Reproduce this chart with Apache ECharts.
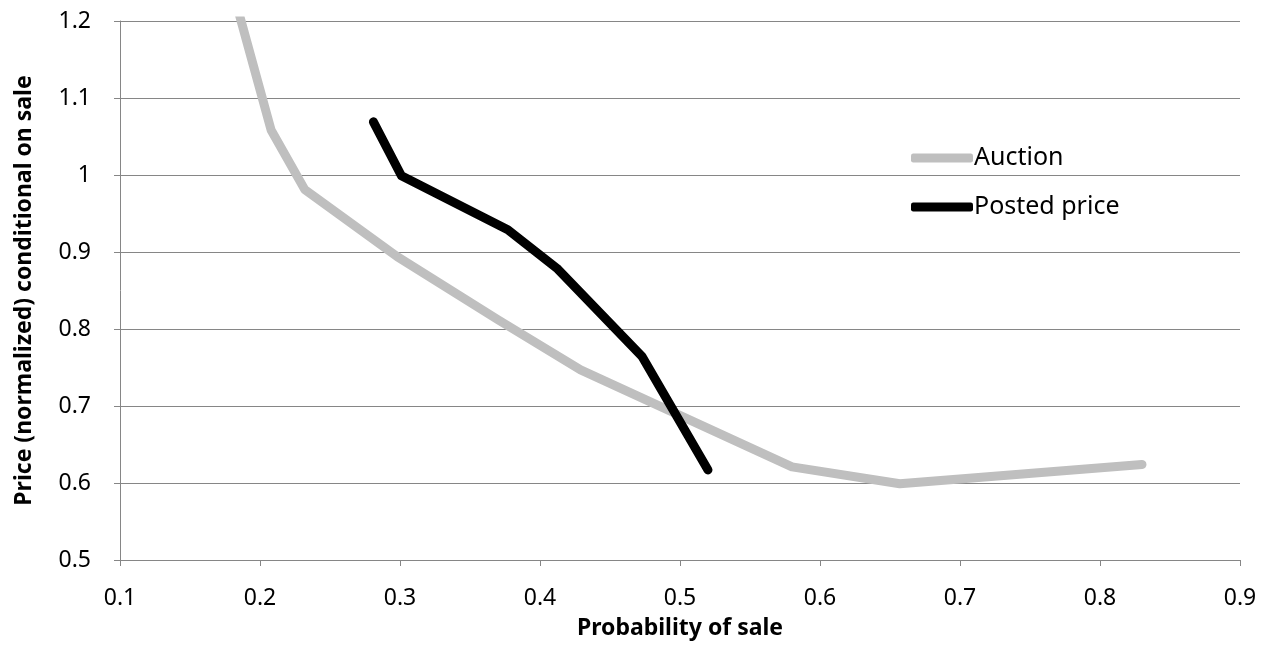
<!DOCTYPE html>
<html>
<head>
<meta charset="utf-8">
<script src="https://cdn.jsdelivr.net/npm/echarts@6/dist/echarts.min.js"></script>
<style>
  html, body { margin: 0; padding: 0; background: #fff; }
  #chart { width: 1269px; height: 665px; }
</style>
</head>
<body>
<div id="chart"></div>
<script>
// ---- data ----
const auctionX = [0.18, 0.208, 0.232, 0.298, 0.37, 0.429, 0.58, 0.657, 0.83];
const auctionY = [1.243, 1.058, 0.981, 0.894, 0.812, 0.747, 0.621, 0.599, 0.624];
const postedX = [0.281, 0.301, 0.377, 0.412, 0.473, 0.52];
const postedY = [1.069, 0.999, 0.929, 0.879, 0.764, 0.617];
const seriesNames = ['Auction', 'Posted price'];
const xTitle = 'Probability of sale';
const yTitle = 'Price (normalized) conditional on sale';

const pairs = (xs, ys) => xs.map((x, i) => [x, ys[i]]);
const FONT = '"Noto Sans", "Open Sans", sans-serif';
const AXIS_GRAY = '#868686';

const chart = echarts.init(document.getElementById('chart'), null, { renderer: 'canvas' });
chart.setOption({
  animation: false,
  backgroundColor: '#fff',
  grid: { left: 120, right: 29, top: 21, bottom: 105, containLabel: false, outerBoundsMode: 'none' },
  legend: {
    data: seriesNames,
    orient: 'vertical',
    left: 906,
    top: 138,
    icon: 'roundRect',
    itemWidth: 62,
    itemHeight: 9,
    itemGap: 19,
    textStyle: { fontFamily: FONT, fontSize: 25, color: '#000', lineHeight: 30, padding: [0, 0, 0, -4] }
  },
  xAxis: {
    type: 'value',
    min: 0.1, max: 0.9, interval: 0.1,
    name: xTitle,
    nameLocation: 'middle',
    nameGap: 57,
    nameTextStyle: { fontFamily: FONT, fontSize: 23, fontWeight: 'bold', color: '#000' },
    axisLine: { show: true, lineStyle: { color: AXIS_GRAY, width: 1 } },
    axisTick: { show: true, inside: false, length: 6, lineStyle: { color: AXIS_GRAY } },
    axisLabel: { fontFamily: FONT, fontSize: 23, color: '#000', margin: 27,
      formatter: v => String(Math.round(v * 10) / 10) },
    splitLine: { show: false }
  },
  yAxis: {
    type: 'value',
    min: 0.5, max: 1.2, interval: 0.1,
    name: yTitle,
    nameLocation: 'middle',
    nameGap: 84,
    nameRotate: 90,
    nameTextStyle: { fontFamily: FONT, fontSize: 23, fontWeight: 'bold', color: '#000' },
    axisLine: { show: true, lineStyle: { color: AXIS_GRAY, width: 1 } },
    axisTick: { show: true, inside: false, length: 6, lineStyle: { color: AXIS_GRAY } },
    axisLabel: { fontFamily: FONT, fontSize: 23, color: '#000', margin: 29,
      formatter: v => String(Math.round(v * 10) / 10) },
    splitLine: { show: true, lineStyle: { color: AXIS_GRAY, width: 1 } }
  },
  series: [
    {
      name: seriesNames[0],
      type: 'line',
      data: pairs(auctionX, auctionY),
      showSymbol: false,
      symbol: 'none',
      clip: true,
      color: '#BFBFBF',
      lineStyle: { color: '#BFBFBF', width: 9, cap: 'round', join: 'round' },
      z: 2
    },
    {
      name: seriesNames[1],
      type: 'line',
      data: pairs(postedX, postedY),
      showSymbol: false,
      symbol: 'none',
      clip: true,
      color: '#000000',
      lineStyle: { color: '#000000', width: 9, cap: 'round', join: 'round' },
      z: 3
    }
  ]
});
</script>
</body>
</html>
